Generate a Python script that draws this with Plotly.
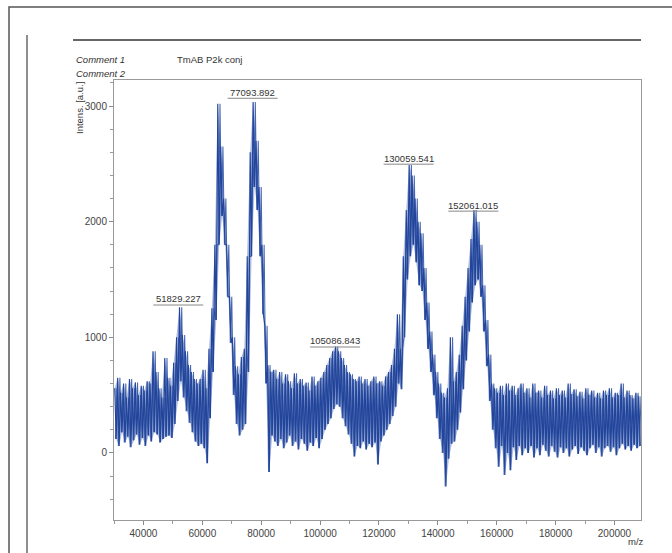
import plotly.graph_objects as go

# m/z bin starts (1000 Da bins) and read-off upper / lower envelope of the noisy trace
mz_start = list(range(30000, 209000, 1000))
upper = [560, 650, 520, 600, 480, 640, 560, 610, 500, 580,
         540, 620, 600, 880, 700, 560, 480, 820, 650, 580,
         780, 1000, 1260, 1020, 880, 760, 700, 640, 600, 640,
         720, 560, 900, 1250, 1800, 3020, 2650, 2200, 1800, 1350,
         1000, 750, 680, 830, 900, 1700, 2600, 3035, 2700, 2300,
         1800, 1100, 760, 700, 720, 640, 700, 600, 680, 620,
         560, 690, 600, 640, 580, 610, 540, 660, 580, 620,
         650, 700, 760, 820, 880, 920, 880, 820, 760, 700,
         680, 640, 620, 660, 600, 640, 580, 620, 660, 600,
         620, 580, 660, 700, 760, 900, 1200, 900, 1700, 2100,
         2490, 2400, 2200, 2000, 1900, 1600, 1300, 1050, 850, 700,
         600, 520, 480, 560, 1000, 620, 700, 850, 1100, 1350,
         1600, 1850, 2100, 2000, 1800, 1450, 1150, 850, 600, 560,
         520, 580, 500, 600, 540, 580, 500, 560, 600, 520,
         560, 480, 600, 520, 540, 480, 580, 500, 540, 470,
         560, 500, 540, 480, 600, 510, 550, 490, 530, 470,
         560, 500, 540, 480, 520, 470, 540, 500, 560, 480,
         520, 500, 600, 480, 540, 500, 470, 520, 490]
lower = [120, 60, 180, 90, 140, 50, 110, 160, 70, 130,
         60, 150, 100, 180, 160, 90, 120, 140, 150, 130,
         250, 450, 620, 480, 360, 260, 180, 100, 60, 80,
         40, -90, 300, 700, 1150, 1800, 2050, 1800, 1350, 950,
         500, 250, 150, 200, 250, 700, 1700, 2300, 2100, 1700,
         1200, 600, -165, 150, 100, 60, 120, 40, 90, 150,
         60, 100, 30, 120, 80, 20, 90, 60, 130, 40,
         120, 200, 250, 300, 380, 420, 400, 300, 230, 160,
         80, -30, 60, 40, 100, 30, 80, 50, 90, -100,
         100, 150, 200, 250, 320, 400, 600, 550, 1000, 1500,
         1700, 1800, 1650, 1450, 1400, 1150, 900, 700, 500, 300,
         120, 0, -290, -50, 80, 100, 200, 350, 550, 800,
         1050, 1300, 1450, 1500, 1350, 1050, 750, 450, 200, 40,
         -120, 60, -190, 0, -150, 50, -60, 60, -20, 40,
         0, 60, -40, 40, -20, 70, 20, -30, 60, 10,
         -40, 50, 0, 40, -30, 30, 60, -10, 50, 20,
         -20, 40, 70, 0, 50, -30, 40, 60, 10, 50,
         -20, 40, 80, 30, 60, 20, 70, 40, 60]

peak_mz = [51829.227, 77093.892, 105086.843, 130059.541, 152061.015]
peak_label_y = [1339, 3119, 968, 2549, 2143]
peak_line_y = [1279, 3067, 916, 2497, 2091]

x_ticks = [40000, 60000, 80000, 100000, 120000, 140000, 160000, 180000, 200000]
y_ticks = [0, 1000, 2000, 3000]

BLUE = "#22449a"

# light envelope band (fringe of the noisy spectrum)
band_x = [m + 250 for m in mz_start] + [m + 750 for m in reversed(mz_start)]
band_y = list(upper) + list(reversed(lower))

# two interleaved zigzag strokes across the envelope (dense noise)
zz1_x, zz1_y, zz2_x, zz2_y = [], [], [], []
for m, u, l in zip(mz_start, upper, lower):
    zz1_x += [m + 250, m + 750]
    zz1_y += [u, l]
    zz2_x += [m + 500, m + 1000]
    zz2_y += [l, u]

fig = go.Figure()
fig.add_trace(go.Scatter(x=band_x, y=band_y, mode="lines", fill="toself",
                         fillcolor="rgba(95,125,190,0.5)",
                         line=dict(color="rgba(95,125,190,0.0)", width=0),
                         hoverinfo="skip", showlegend=False))
fig.add_trace(go.Scatter(x=zz2_x, y=zz2_y, mode="lines",
                         line=dict(color="rgba(50,85,168,0.9)", width=1.05),
                         hoverinfo="skip", showlegend=False))
fig.add_trace(go.Scatter(x=zz1_x, y=zz1_y, mode="lines",
                         line=dict(color=BLUE, width=1.15), hoverinfo="skip",
                         showlegend=False))

font = dict(family="Liberation Sans, Arial, sans-serif", size=9.5, color="#333333")
tfont = dict(family="Liberation Sans, Arial, sans-serif", size=10, color="#444444")

shapes = []
annotations = []
for m, ty, ly in zip(peak_mz, peak_label_y, peak_line_y):
    annotations.append(dict(x=m, y=ty, xref="x", yref="y", text=f"{m:.3f}",
                            showarrow=False, font=font, xanchor="center",
                            yanchor="middle"))
    shapes.append(dict(type="line", xref="x", yref="y", x0=m - 8500, x1=m + 8500,
                       y0=ly, y1=ly, line=dict(color="#888888", width=1)))


def px(xp):
    return (xp - 114) / 527.0


def py(yp):
    return (520 - yp) / 440.0


annotations += [
    dict(x=px(74), y=py(59), xref="paper", yref="paper", text="<i>Comment 1</i>",
         showarrow=False, xanchor="left", yanchor="middle", font=font),
    dict(x=px(175), y=py(59), xref="paper", yref="paper", text="TmAB P2k conj",
         showarrow=False, xanchor="left", yanchor="middle", font=font),
    dict(x=px(74), y=py(73), xref="paper", yref="paper", text="<i>Comment 2</i>",
         showarrow=False, xanchor="left", yanchor="middle", font=font),
    dict(x=px(80), y=py(108), xref="paper", yref="paper", text="Intens. [a.u.]",
         textangle=-90, showarrow=False, xanchor="center", yanchor="middle", font=font),
    dict(x=px(636), y=py(541), xref="paper", yref="paper", text="m/z",
         showarrow=False, xanchor="center", yanchor="middle", font=font),
]

shapes.append(dict(type="line", xref="paper", yref="paper", x0=px(73), x1=px(641),
                   y0=py(40), y1=py(40), line=dict(color="#333333", width=1.3)))
shapes.append(dict(type="line", xref="paper", yref="paper", x0=px(27), x1=px(27),
                   y0=py(35), y1=py(560), line=dict(color="#444444", width=1.2)))
shapes.append(dict(type="rect", xref="paper", yref="paper", x0=px(9), x1=px(700),
                   y0=py(700), y1=py(7), line=dict(color="#555555", width=1.5)))

fig.update_layout(
    width=672, height=553,
    margin=dict(l=114, r=31, t=80, b=33),
    paper_bgcolor="white", plot_bgcolor="white",
    font=font,
    shapes=shapes, annotations=annotations,
    xaxis=dict(range=[30000, 209000], tickvals=x_ticks,
               ticktext=[str(v) for v in x_ticks],
               showgrid=False, zeroline=False, showline=True, mirror=True,
               linecolor="#9a9a9a", linewidth=1, ticks="outside", ticklen=4,
               tickcolor="#8a8a8a",
               minor=dict(dtick=10000, tick0=0, ticks="outside", ticklen=3,
                          tickcolor="#9a9a9a"),
               tickfont=tfont),
    yaxis=dict(range=[-580, 3225], tickvals=y_ticks,
               showgrid=False, zeroline=False, showline=True, mirror=True,
               linecolor="#9a9a9a", linewidth=1, ticks="outside", ticklen=4,
               tickcolor="#8a8a8a",
               minor=dict(dtick=200, tick0=0, ticks="outside", ticklen=3,
                          tickcolor="#9a9a9a"),
               tickfont=tfont),
)

fig.write_html("out.html", config={"displayModeBar": False},
               post_script="document.body.style.margin='0px';document.body.style.overflow='hidden';")
